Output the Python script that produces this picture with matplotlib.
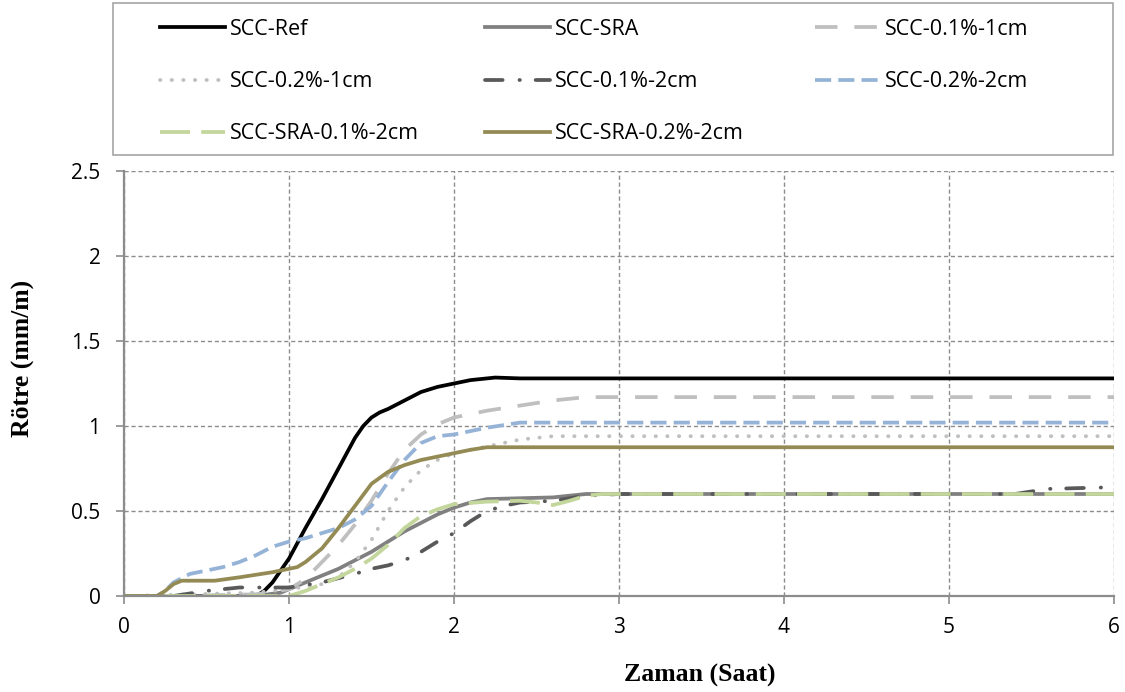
import matplotlib
matplotlib.use("Agg")
import matplotlib.pyplot as plt
from matplotlib.patches import Rectangle

# Shrinkage (mm/m) against time (hours)
t_ref = [0, 0.8, 0.85, 0.9, 1.0, 1.1, 1.2, 1.3, 1.4, 1.45, 1.5, 1.55, 1.6, 1.7, 1.8, 1.9, 2.0, 2.1, 2.25, 2.4, 6]
ref = [0, 0, 0.03, 0.08, 0.22, 0.4, 0.57, 0.75, 0.93, 1.0, 1.05, 1.08, 1.1, 1.15, 1.2, 1.23, 1.25, 1.27, 1.285, 1.28, 1.28]

t_sra = [0, 0.8, 0.95, 1.0, 1.1, 1.2, 1.3, 1.4, 1.5, 1.6, 1.7, 1.8, 1.9, 2.0, 2.1, 2.2, 2.4, 2.6, 2.8, 6]
sra = [0, 0, 0.02, 0.04, 0.08, 0.12, 0.16, 0.21, 0.26, 0.32, 0.38, 0.43, 0.48, 0.52, 0.55, 0.57, 0.575, 0.58, 0.6, 0.6]

t_01_1 = [0, 0.3, 0.8, 1.0, 1.1, 1.2, 1.3, 1.4, 1.5, 1.6, 1.7, 1.8, 1.9, 2.0, 2.2, 2.4, 2.6, 2.8, 6]
s_01_1 = [0, 0, 0.01, 0.04, 0.1, 0.2, 0.3, 0.42, 0.56, 0.72, 0.86, 0.95, 1.01, 1.05, 1.09, 1.12, 1.15, 1.17, 1.17]

t_02_1 = [0, 0.8, 1.0, 1.2, 1.3, 1.4, 1.5, 1.6, 1.7, 1.8, 1.9, 2.0, 2.2, 2.4, 2.6, 6]
s_02_1 = [0, 0.02, 0.04, 0.07, 0.11, 0.2, 0.33, 0.5, 0.64, 0.74, 0.8, 0.84, 0.88, 0.92, 0.94, 0.94]

t_01_2 = [0, 0.3, 0.5, 0.7, 0.9, 1.0, 1.2, 1.4, 1.5, 1.6, 1.7, 1.8, 1.9, 2.0, 2.1, 2.2, 2.3, 2.4, 2.6, 2.8, 3.0, 5.4, 5.6, 6]
s_01_2 = [0, 0, 0.03, 0.05, 0.05, 0.05, 0.08, 0.13, 0.16, 0.18, 0.21, 0.26, 0.32, 0.37, 0.44, 0.5, 0.53, 0.55, 0.56, 0.59, 0.6, 0.6, 0.63, 0.64]

t_02_2 = [0, 0.2, 0.25, 0.3, 0.4, 0.5, 0.6, 0.7, 0.8, 0.9, 1.0, 1.1, 1.2, 1.3, 1.4, 1.5, 1.6, 1.7, 1.8, 1.9, 2.0, 2.1, 2.2, 2.4, 6]
s_02_2 = [0, 0, 0.03, 0.08, 0.13, 0.15, 0.17, 0.2, 0.24, 0.29, 0.32, 0.34, 0.37, 0.4, 0.45, 0.53, 0.67, 0.8, 0.9, 0.94, 0.95, 0.97, 0.99, 1.02, 1.02]

t_sra_01 = [0, 1.0, 1.1, 1.2, 1.3, 1.4, 1.5, 1.6, 1.7, 1.8, 1.9, 2.0, 2.2, 2.4, 2.5, 2.6, 2.7, 2.8, 2.9, 6]
s_sra_01 = [0, 0, 0.03, 0.07, 0.11, 0.16, 0.22, 0.3, 0.4, 0.47, 0.51, 0.54, 0.555, 0.56, 0.55, 0.535, 0.56, 0.59, 0.6, 0.6]

t_sra_02 = [0, 0.2, 0.25, 0.3, 0.35, 0.45, 0.55, 0.7, 0.8, 0.9, 1.0, 1.05, 1.1, 1.2, 1.3, 1.4, 1.5, 1.6, 1.7, 1.8, 1.9, 2.0, 2.1, 2.2, 2.4, 6]
s_sra_02 = [0, 0, 0.03, 0.07, 0.09, 0.09, 0.09, 0.11, 0.125, 0.14, 0.16, 0.17, 0.2, 0.28, 0.4, 0.53, 0.66, 0.73, 0.77, 0.8, 0.82, 0.84, 0.86, 0.875, 0.875, 0.875]

x_ticks = [0, 1, 2, 3, 4, 5, 6]
y_ticks = [0, 0.5, 1, 1.5, 2, 2.5]
y_ticklabels = ["0", "0.5", "1", "1.5", "2", "2.5"]

W, H = 1125, 692
fig = plt.figure(figsize=(W / 100, H / 100), dpi=100)
ax = fig.add_axes([124 / W, 1 - 596 / H, (1114 - 124) / W, (596 - 171) / H])

series = [
    (t_ref, ref, "SCC-Ref", dict(color="black", lw=2.7, ls="-")),
    (t_sra, sra, "SCC-SRA", dict(color="#808080", lw=2.7, ls="-")),
    (t_01_1, s_01_1, "SCC-0.1%-1cm", dict(color="#bfbfbf", lw=2.7, ls=(0, (6, 4.5)))),
    (t_02_1, s_02_1, "SCC-0.2%-1cm", dict(color="#bfbfbf", lw=2.7, ls=(0, (0.1, 3.0)), dash_capstyle="round")),
    (t_01_2, s_01_2, "SCC-0.1%-2cm", dict(color="#595959", lw=2.7, ls=(0, (4.7, 4.5, 0.1, 4.2)), dash_capstyle="round")),
    (t_02_2, s_02_2, "SCC-0.2%-2cm", dict(color="#95b3d7", lw=2.7, ls=(0, (4.3, 1.9)))),
    (t_sra_01, s_sra_01, "SCC-SRA-0.1%-2cm", dict(color="#c3d69b", lw=2.7, ls=(0, (8, 3)))),
    (t_sra_02, s_sra_02, "SCC-SRA-0.2%-2cm", dict(color="#948a54", lw=2.7, ls="-")),
]

handles = {}
for t, s, name, style in series:
    ln, = ax.plot(t, s, solid_joinstyle="round", **style)
    handles[name] = ln

ax.set_xlim(0, 6)
ax.set_ylim(0, 2.5)
ax.set_xticks(x_ticks)
ax.set_yticks(y_ticks)
ax.set_yticklabels(y_ticklabels)
ax.grid(True, color="#8c8c8c", ls=(0, (3, 2)), lw=1.0)
ax.set_axisbelow(True)
for side in ("top", "right"):
    ax.spines[side].set_visible(False)
for side in ("left", "bottom"):
    ax.spines[side].set_color("#8c8c8c")
    ax.spines[side].set_linewidth(1.6)
ax.tick_params(axis="both", length=6, width=1.2, color="#8c8c8c", labelsize=15,
               labelfontfamily="Open Sans")
ax.tick_params(axis="y", pad=11)
ax.tick_params(axis="x", pad=9)

fig.text(700 / W, 1 - 675 / H, "Zaman (Saat)", ha="center", va="center",
         fontfamily="Liberation Serif", fontweight="bold", fontsize=18.5)
fig.text(23 / W, 1 - 358 / H, "Rötre (mm/m)", ha="center", va="center", rotation=90,
         fontfamily="Liberation Serif", fontweight="bold", fontsize=18.5)

# legend frame and its three columns
fig.add_artist(Rectangle((113 / W, 1 - 155 / H), (1113 - 113) / W, (155 - 3) / H,
                         transform=fig.transFigure, facecolor="white",
                         edgecolor="#a6a6a6", lw=1.2, zorder=1))
columns = [
    (160, ["SCC-Ref", "SCC-0.2%-1cm", "SCC-SRA-0.1%-2cm"]),
    (485, ["SCC-SRA", "SCC-0.1%-2cm", "SCC-SRA-0.2%-2cm"]),
    (815, ["SCC-0.1%-1cm", "SCC-0.2%-2cm"]),
]
for x0, names in columns:
    leg = fig.legend([handles[k] for k in names], names, loc="upper left",
                     bbox_to_anchor=(x0 / W, 1 - 19 / H),
                     bbox_transform=fig.transFigure, frameon=False,
                     prop={"family": "Open Sans", "size": 15.5},
                     handlelength=3.0, handletextpad=0.25, labelspacing=1.45,
                     borderpad=0, borderaxespad=0)
    leg.set_zorder(2)

fig.savefig("out.png", dpi=100)
